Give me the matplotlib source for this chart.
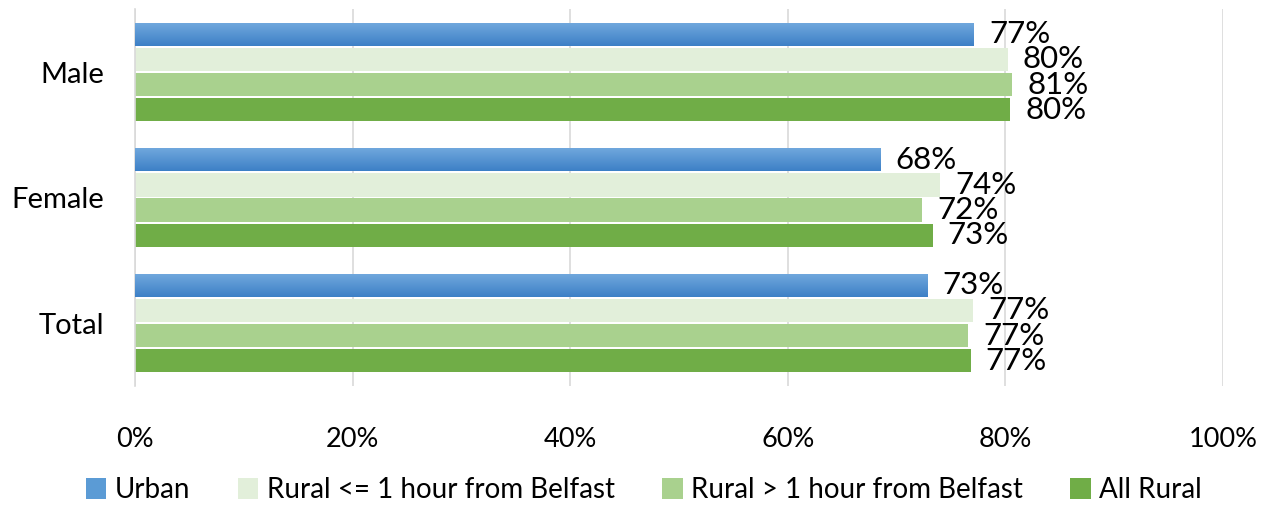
#!/usr/bin/env python3
# grouped horizontal bars, urban vs rural

import numpy as np
import matplotlib.pyplot as plt
from matplotlib.patches import Patch
from matplotlib.colors import LinearSegmentedColormap

categories = ["Male", "Female", "Total"]
series = ["Urban", "Rural <= 1 hour from Belfast", "Rural > 1 hour from Belfast", "All Rural"]
urban = [77.1, 68.5, 72.8]
rural_near = [80.2, 74.0, 77.0]
rural_far = [80.6, 72.3, 76.6]
all_rural = [80.4, 73.3, 76.8]
labels = [
    ["77%", "68%", "73%"],
    ["80%", "74%", "77%"],
    ["81%", "72%", "77%"],
    ["80%", "73%", "77%"],
]
colors = ["#5b9bd5", "#e2efda", "#a9d18e", "#70ad47"]

plt.rcParams["font.family"] = ["Lato", "DejaVu Sans"]

fig = plt.figure(figsize=(12.7, 5.09), dpi=100)
ax = fig.add_axes([0.1063, 0.2421, 0.8567, 0.7397])

values = [urban, rural_near, rural_far, all_rural]
y = np.arange(len(categories))
slot = 0.2
height = 0.185

# gradient for the blue bars
grad = np.linspace(0, 1, 64).reshape(-1, 1)
blue_cmap = LinearSegmentedColormap.from_list("b", ["#72a9de", "#3d80c6"])

for i, vals in enumerate(values):
    pos = y + (i - 1.5) * slot
    bars = ax.barh(pos, vals, height=height, color=colors[i], zorder=2)
    if i == 0:
        for b in bars:
            x0, y0 = b.get_x(), b.get_y()
            w, h = b.get_width(), b.get_height()
            im = ax.imshow(grad, cmap=blue_cmap, aspect="auto",
                           extent=[x0, x0 + w, y0 + h, y0], zorder=3,
                           origin="upper")
            im.set_clip_path(b)
    for p, v, lab in zip(pos, vals, labels[i]):
        ax.annotate(lab, (v, p), xytext=(11, 0), textcoords="offset points",
                    va="center", ha="left", fontsize=22.5, color="black")

ax.set_xlim(0, 100)
ax.set_ylim(2.5, -0.5)
ax.set_yticks(y)
ax.set_yticklabels(categories, fontsize=21)
ax.set_xticks(np.arange(0, 101, 20))
ax.set_xticklabels([f"{t}%" for t in range(0, 101, 20)], fontsize=19.5)
ax.tick_params(axis="both", length=0)
ax.tick_params(axis="x", pad=30)
ax.tick_params(axis="y", pad=22)
ax.grid(axis="x", color="#d9d9d9", linewidth=1.2, zorder=0)
for s in ["top", "right", "bottom"]:
    ax.spines[s].set_visible(False)
ax.spines["left"].set_color("#d9d9d9")
ax.spines["left"].set_linewidth(1.2)

handles = [Patch(facecolor=c) for c in colors]
fig.legend(handles, series, loc="center", bbox_to_anchor=(0.507, 0.037),
           ncol=4, frameon=False, fontsize=20, handlelength=0.75,
           handleheight=0.75, handletextpad=0.3, columnspacing=1.7)

fig.savefig("out.png", dpi=100)
